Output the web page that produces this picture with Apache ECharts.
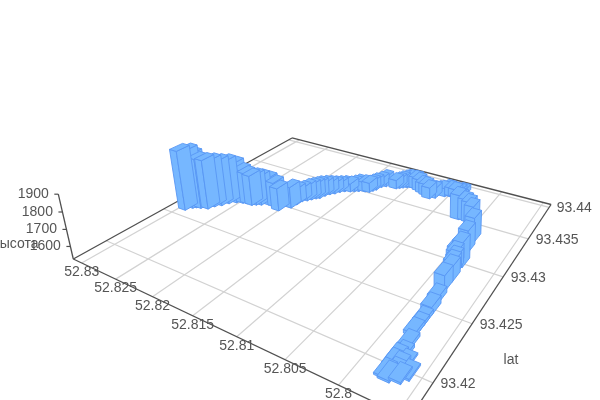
<!DOCTYPE html>
<html><head><meta charset="utf-8"><style>html,body{margin:0;background:#fff}#c{width:600px;height:400px}</style>
<script src="https://cdn.jsdelivr.net/npm/echarts@6/dist/echarts.min.js"></script></head><body><div id="c"></div>
<script>
const lonValues=[52.8295,52.8291,52.8288,52.8283,52.8275,52.8272,52.8267,52.8263,52.8257,52.8250,52.8245,52.8238,52.8234,52.8229,52.8222,52.8213,52.8204,52.8196,52.8195,52.8194,52.8190,52.8187,52.8184,52.8181,52.8179,52.8176,52.8172,52.8169,52.8165,52.8159,
52.8155,52.8151,52.8144,52.8139,52.8137,52.8135,52.8133,52.8129,52.8116,52.8113,52.8110,52.8106,52.8104,52.8100,52.8095,52.8089,52.8083,52.8077,52.8071,52.8066,52.8066,52.8065,52.8058,52.8053,52.8050,52.8046,52.8042,52.8039,52.8023,52.8021,
52.8015,52.8010,52.8005,52.7992,52.7990,52.7985,52.7993,52.7990,52.7987,52.7986,52.7984,52.7984,52.7982,52.7980,52.7980,52.7980,52.7980,52.7977,52.7975,52.7978,52.7978,52.7969,52.7972,52.7972,52.7978,52.7974,52.7966,52.7962];
const latValues=[93.4263,93.4268,93.4270,93.4271,93.4273,93.4278,93.4282,93.4287,93.4291,93.4293,93.4294,93.4294,93.4296,93.4298,93.4301,93.4301,93.4298,93.4306,93.4312,93.4318,93.4321,93.4324,93.4327,93.4329,93.4334,93.4338,93.4341,93.4345,93.4348,93.4350,
93.4352,93.4354,93.4356,93.4357,93.4360,93.4363,93.4369,93.4372,93.4373,93.4375,93.4377,93.4379,93.4381,93.4381,93.4381,93.4379,93.4377,93.4375,93.4372,93.4375,93.4379,93.4385,93.4381,93.4383,93.4384,93.4385,93.4387,93.4390,93.4355,93.4357,
93.4356,93.4355,93.4352,93.4333,93.4319,93.4302,93.4306,93.4300,93.4295,93.4290,93.4285,93.4274,93.4262,93.4251,93.4241,93.4236,93.4230,93.4220,93.4211,93.4208,93.4204,93.4207,93.4203,93.4199,93.4196,93.4195,93.4197,93.4201];
const heightValues=[1905,1897,1870,1844,1840,1826,1815,1803,1782,1742,1725,1718,1718,1711,1696,1682,1670,1660,1626,1611,1620,1620,1620,1623,1611,1601,1594,1585,1581,1579,
1584,1590,1588,1588,1588,1590,1583,1591,1583,1585,1590,1595,1595,1599,1602,1602,1594,1601,1598,1589,1573,1555,1580,1587,1580,1573,1566,1560,1680,1667,
1660,1653,1646,1672,1657,1668,1602,1613,1612,1612,1611,1615,1558,1567,1545,1541,1544,1543,1542,1538,1537,1535,1540,1535,1535,1535,1535,1535];
const lonTicks=[52.83,52.825,52.82,52.815,52.81,52.805,52.8,52.795];
const latTicks=[93.42,93.425,93.43,93.435,93.44];
const zTicks=[1600,1700,1800,1900];

// Perspective of the 3D box: floor homography plus the vertical vanishing direction
const A=216,B=352.3,C=73.3,D=37,E=-57.9,F=259,G=-0.2931,H=0.4574,P=-17.35,Q=-72.65,R=-0.04036;
const lonMax=52.8313,lonSpan=0.0372,latMin=93.4175,latSpan=0.023,zMin=1525,zSpan=375;
const du=0.028,dv=0.054;
const U=l=>(lonMax-l)/lonSpan,V=l=>(l-latMin)/latSpan,Zn=z=>(z-zMin)/zSpan;
function pr(u,v,n){const w=G*u+H*v+1+R*n;return [(A*u+B*v+C+P*n)/w,(D*u+E*v+F+Q*n)/w];}

const font='14px "Liberation Sans",Arial,sans-serif',tc='#555',gc='#d2d2d2',ac='#505050';
const line=(a,b,c,w)=>({type:'line',shape:{x1:a[0],y1:a[1],x2:b[0],y2:b[1]},style:{stroke:c,lineWidth:w||1.2}});
const text=(t,x,y,al)=>({type:'text',style:{text:String(t),x,y,fill:tc,font,textAlign:al,textVerticalAlign:'middle'}});
function frame(){const c=[];
 lonTicks.forEach(l=>c.push(line(pr(U(l),0,0),pr(U(l),1,0),gc)));
 latTicks.forEach(l=>c.push(line(pr(0,V(l),0),pr(1,V(l),0),gc)));
 const L=pr(0,0,0),Bk=pr(0,1,0),Rt=pr(1,1,0),Fr=pr(1,0,0);
 c.push(line(L,Bk,ac,1.3),line(Bk,Rt,ac,1.3),line(Rt,Fr,ac,1.3),line(Fr,L,ac,1.3),line(L,pr(0,0,1),ac,1.3));
 lonTicks.slice(0,7).forEach(l=>{const p=pr(U(l),0,0);c.push(text(l,p[0],p[1]+9.5,'center'));});
 latTicks.forEach(l=>{const p=pr(1,V(l),0);c.push(text(l,p[0]+7.5,p[1]+1,'left'));});
 zTicks.forEach(z=>{const p=pr(0,0,Zn(z));c.push(line(p,[p[0]-4,p[1]],ac,1.2),text(z,p[0]-9.5,p[1],'right'));});
 c.push(text('lat',511,360,'center'),text('высота',38.5,244,'right'));
 return {type:'group',children:c};}
const fill='#76b7ff',edge='#5896f4';
function bar(p,api){const u=U(api.value(0)),v=V(api.value(1)),n=Zn(api.value(2));
 const u0=u-du/2,u1=u+du/2,v0=v-dv/2,v1=v+dv/2;
 const poly=pts=>({type:'polygon',shape:{points:pts},style:{fill,stroke:edge,lineWidth:0.9,lineJoin:'round'}});
 return {type:'group',children:[
  poly([pr(u0,v0,0),pr(u1,v0,0),pr(u1,v0,n),pr(u0,v0,n)]),
  poly([pr(u1,v0,0),pr(u1,v1,0),pr(u1,v1,n),pr(u1,v0,n)]),
  poly([pr(u0,v0,n),pr(u1,v0,n),pr(u1,v1,n),pr(u0,v1,n)])]};}
const data=lonValues.map((l,i)=>[l,latValues[i],heightValues[i]]);
const depth=d=>H*V(d[1])+G*U(d[0]);
const sorted=data.slice().sort((a,b)=>depth(b)-depth(a));
const chart=echarts.init(document.getElementById('c'));
chart.setOption({animation:false,series:[
 {type:'custom',coordinateSystem:'none',silent:true,data:[[0]],renderItem:frame,z:1},
 {type:'custom',coordinateSystem:'none',silent:true,data:sorted,renderItem:bar,z:2,progressive:0}]});
</script></body></html>
